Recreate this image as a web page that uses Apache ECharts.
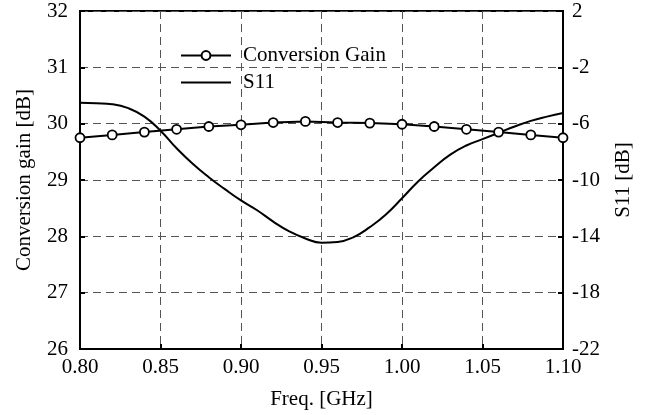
<!DOCTYPE html>
<html>
<head>
<meta charset="utf-8">
<script src="https://cdn.jsdelivr.net/npm/echarts@6/dist/echarts.min.js"></script>
<style>
  html, body { margin: 0; padding: 0; background: #fff; }
  #chart { width: 660px; height: 415px; }
</style>
</head>
<body>
<div id="chart"></div>
<script>
// conversion gain, measured every 20 MHz
const gainFreq = [0.80, 0.82, 0.84, 0.86, 0.88, 0.90, 0.92, 0.94, 0.96, 0.98, 1.00, 1.02, 1.04, 1.06, 1.08, 1.10];
const gainValues = [29.75, 29.80, 29.85, 29.90, 29.95, 29.98, 30.02, 30.04, 30.02, 30.01, 29.99, 29.95, 29.90, 29.85, 29.80, 29.75];

// S11 curve
const s11Freq = [0.80, 0.81, 0.82, 0.83, 0.84, 0.85, 0.86, 0.87, 0.88, 0.89, 0.90, 0.91, 0.92, 0.93, 0.94, 0.95,
  0.96, 0.97, 0.98, 0.99, 1.00, 1.01, 1.02, 1.03, 1.04, 1.05, 1.06, 1.07, 1.08, 1.09, 1.10];
const s11Values = [-4.51, -4.55, -4.62, -4.90, -5.50, -6.50, -7.75, -8.85, -9.80, -10.65, -11.45, -12.15, -12.95, -13.65, -14.15, -14.45,
  -14.40, -14.05, -13.35, -12.45, -11.30, -10.10, -9.10, -8.20, -7.55, -7.10, -6.65, -6.20, -5.80, -5.50, -5.25];

const font = "'Liberation Serif', 'Times New Roman', serif";
// plain line for the S11 legend entry (box 50 x 11)
const lineIcon = "path://M0,0 M0,4.5 L50,4.5 L50,6.5 L0,6.5 Z M50,11";

const chart = echarts.init(document.getElementById("chart"));
chart.setOption({
  animation: false,
  grid: {
    left: 80,
    right: 97,
    top: 11,
    bottom: 66,
    show: true,
    borderColor: "#000",
    borderWidth: 2,
  },
  legend: {
    orient: "vertical",
    left: 180,
    top: 45,
    padding: 0,
    itemWidth: 50,
    itemHeight: 11,
    itemGap: 6,
    textStyle: { fontFamily: font, fontSize: 21, color: "#000", padding: [0, 0, 0, 7] },
    data: [
      { name: "Conversion Gain" },
      { name: "S11", icon: lineIcon, itemStyle: { color: "#000" } },
    ],
  },
  xAxis: {
    type: "value",
    min: 0.8,
    max: 1.1,
    interval: 0.05,
    name: "Freq. [GHz]",
    nameLocation: "middle",
    nameGap: 40,
    nameTextStyle: { fontFamily: font, fontSize: 21, color: "#000" },
    axisLine: { onZero: false, lineStyle: { color: "#000", width: 2 } },
    axisTick: { inside: true, length: 5, lineStyle: { color: "#000", width: 2 } },
    axisLabel: {
      fontFamily: font, fontSize: 21, color: "#000", margin: 8,
      formatter: (v) => v.toFixed(2),
    },
    splitLine: { show: true, lineStyle: { color: "#555", type: [8, 5], width: 1 } },
  },
  yAxis: [
    {
      type: "value",
      min: 26,
      max: 32,
      interval: 1,
      name: "Conversion gain [dB]",
      nameLocation: "middle",
      nameRotate: 90,
      nameGap: 45,
      nameTextStyle: { fontFamily: font, fontSize: 21, color: "#000" },
      axisLine: { show: true, lineStyle: { color: "#000", width: 2 } },
      axisTick: { show: true, inside: true, length: 5, lineStyle: { color: "#000", width: 2 } },
      axisLabel: { fontFamily: font, fontSize: 21, color: "#000", margin: 12 },
      splitLine: { show: true, lineStyle: { color: "#555", type: [8, 5], width: 1 } },
    },
    {
      type: "value",
      position: "right",
      min: -22,
      max: 2,
      interval: 4,
      name: "S11 [dB]",
      nameLocation: "middle",
      nameRotate: 90,
      nameGap: 50,
      nameTextStyle: { fontFamily: font, fontSize: 21, color: "#000" },
      axisLine: { show: true, lineStyle: { color: "#000", width: 2 } },
      axisTick: { show: true, inside: true, length: 5, lineStyle: { color: "#000", width: 2 } },
      axisLabel: { fontFamily: font, fontSize: 21, color: "#000", margin: 9 },
      splitLine: { show: false },
    },
  ],
  series: [
    {
      name: "Conversion Gain",
      type: "line",
      yAxisIndex: 0,
      data: gainFreq.map((f, i) => [f, gainValues[i]]),
      symbol: "circle",
      symbolSize: 9,
      lineStyle: { color: "#000", width: 2 },
      itemStyle: { color: "#fff", borderColor: "#000", borderWidth: 1.8 },
      z: 3,
    },
    {
      name: "S11",
      type: "line",
      yAxisIndex: 1,
      data: s11Freq.map((f, i) => [f, s11Values[i]]),
      smooth: true,
      symbol: "none",
      lineStyle: { color: "#000", width: 2 },
      itemStyle: { color: "#000" },
      z: 2,
    },
  ],
});
</script>
</body>
</html>
